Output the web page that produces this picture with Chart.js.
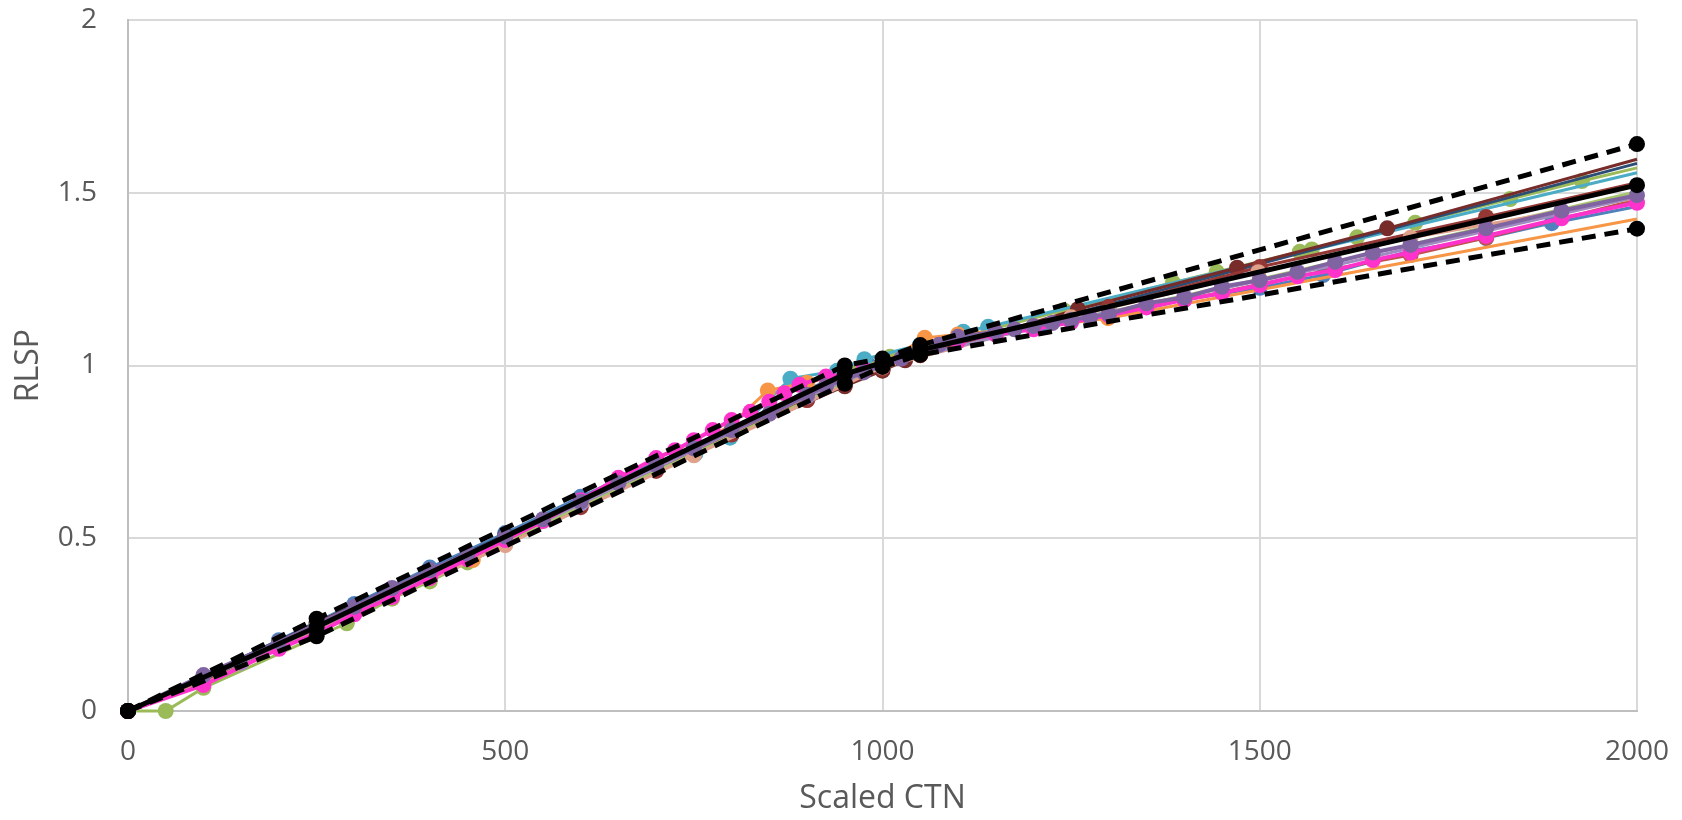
<!DOCTYPE html>
<html>
<head>
<meta charset="utf-8">
<title>RLSP vs Scaled CTN</title>
<script src="https://cdn.jsdelivr.net/npm/chart.js@4"></script>
<style>
  html, body { margin: 0; padding: 0; background: #ffffff; }
  canvas { display: block; }
</style>
</head>
<body>
<canvas id="rlspChart" width="1682" height="820"></canvas>
<script>
// axis ticks
const xTicks = [0, 500, 1000, 1500, 2000];
const yTicks = [0, 0.5, 1, 1.5, 2];

// each curve: [Scaled CTN, RLSP]
const bluePts = [[0,0],[100,0.1],[200,0.205],[300,0.31],[400,0.415],[500,0.515],[600,0.62],[700,0.72],[750,0.755],[800,0.8],[900,0.93],[980,1.005],[1050,1.05],[1100,1.08],[1210,1.11],[1300,1.14],[1400,1.19],[1500,1.225],[1584,1.262],[1701,1.332],[1800,1.369],[1887,1.412],[2000,1.46]];
const redPts = [[0,0],[100,0.085],[200,0.185],[250,0.235],[300,0.285],[400,0.385],[500,0.49],[600,0.595],[700,0.7],[800,0.805],[900,0.9],[950,0.955],[1000,0.99],[1050,1.03],[1100,1.07],[1200,1.11],[1300,1.15],[1400,1.19],[1500,1.235],[1600,1.28],[1700,1.32],[1800,1.37],[2000,1.48]];
const greenPts = [[0,0],[50,0],[100,0.067],[290,0.254],[350,0.325],[400,0.375],[450,0.43],[500,0.485],[600,0.6],[700,0.705],[800,0.81],[900,0.915],[960,0.985],[1010,1.025],[1100,1.08],[1240,1.16],[1385,1.24],[1443,1.271],[1553,1.329],[1569,1.336],[1629,1.371],[1706,1.413],[1832,1.482],[1927,1.534],[2000,1.572]];
const tealPts = [[0,0],[100,0.1],[200,0.2],[300,0.3],[400,0.4],[500,0.5],[600,0.6],[700,0.7],[752,0.744],[798,0.791],[878,0.962],[940,0.985],[976,1.018],[1050,1.06],[1107,1.098],[1140,1.112],[2000,1.558]];
const orangePts = [[0,0],[100,0.09],[200,0.19],[300,0.29],[400,0.39],[457,0.437],[500,0.485],[600,0.595],[700,0.705],[750,0.76],[800,0.83],[848,0.928],[900,0.95],[950,0.975],[1000,1.005],[1056,1.08],[1100,1.09],[1200,1.11],[1299,1.137],[2000,1.424]];
const darkBluePts = [[0,0],[250,0.255],[500,0.51],[750,0.76],[950,0.96],[1000,1.0],[1050,1.04],[1150,1.09],[2000,1.585]];
const maroonPts = [[0,0],[100,0.09],[250,0.255],[500,0.5],[750,0.75],[950,0.94],[1000,0.985],[1030,1.015],[1259,1.163],[1470,1.283],[1669,1.397],[2000,1.597]];
const darkRedPts = [[0,0],[100,0.085],[200,0.19],[300,0.29],[400,0.39],[500,0.49],[600,0.59],[700,0.695],[800,0.8],[900,0.9],[950,0.945],[1000,0.99],[1050,1.03],[1300,1.17],[1500,1.285],[1800,1.43],[2000,1.529]];
const olivePts = [[0,0],[250,0.245],[500,0.49],[750,0.745],[1000,1.0],[1100,1.07],[1300,1.155],[1500,1.25],[1700,1.35],[2000,1.503]];
const peachPts = [[0,0],[100,0.08],[250,0.23],[500,0.48],[750,0.74],[1000,0.995],[1250,1.14],[1498,1.27],[1700,1.37],[2000,1.485]];
const lavenderPts = [[0,0],[150,0.14],[300,0.29],[600,0.6],[900,0.91],[1000,1.0],[1200,1.11],[1400,1.2],[1600,1.29],[2000,1.488]];
const pinkPts = [[0,0],[100,0.075],[200,0.18],[250,0.225],[300,0.28],[350,0.33],[400,0.385],[450,0.44],[500,0.495],[550,0.55],[600,0.61],[650,0.675],[700,0.732],[725,0.755],[750,0.784],[775,0.813],[800,0.842],[825,0.866],[850,0.895],[870,0.92],[890,0.944],[925,0.968],[950,0.975],[975,0.99],[1000,1.005],[1050,1.04],[1100,1.07],[1150,1.09],[1200,1.105],[1250,1.125],[1300,1.145],[1350,1.168],[1400,1.19],[1450,1.21],[1500,1.233],[1550,1.258],[1600,1.276],[1650,1.305],[1700,1.327],[1800,1.375],[1900,1.426],[2000,1.471]];
const purplePts = [[0,0],[100,0.104],[200,0.2],[300,0.302],[350,0.356],[400,0.408],[450,0.455],[500,0.505],[550,0.555],[600,0.606],[650,0.66],[700,0.712],[750,0.76],[800,0.813],[850,0.86],[900,0.915],[925,0.94],[950,0.96],[975,0.98],[1000,1.0],[1025,1.02],[1050,1.04],[1075,1.06],[1100,1.083],[1150,1.098],[1175,1.105],[1200,1.114],[1225,1.123],[1250,1.132],[1275,1.14],[1300,1.149],[1350,1.18],[1400,1.197],[1450,1.228],[1500,1.247],[1550,1.271],[1600,1.3],[1650,1.327],[1700,1.349],[1800,1.397],[1900,1.448],[2000,1.493]];

// reference curve and its limits
const meanPts = [[0,0],[250,0.243],[950,0.975],[1000,1.008],[1050,1.045],[2000,1.522]];
const upperPts = [[0,0],[250,0.267],[950,1.0],[1000,1.02],[1050,1.059],[2000,1.641]];
const lowerPts = [[0,0],[250,0.216],[950,0.947],[1000,0.996],[1050,1.031],[2000,1.396]];

document.addEventListener("DOMContentLoaded", () => {
    renderChart();
});

/**
 * one measured curve (marker + line)
 * @param {Array} pts - [x, y] pairs
 * @param {String} color - line / marker colour
 * @param {Object} opt - width, whether the end point at 2000 has a marker
 */
function curve(pts, color, opt = {}) {
    const width = opt.width || 3;
    const r = opt.radius || 8;
    return {
        data: pts.map(p => ({ x: p[0], y: p[1] })),
        borderColor: color,
        backgroundColor: color,
        borderWidth: width,
        pointRadius: pts.map((p, i) => (opt.noEnd && i === pts.length - 1) ? 0 : r),
        pointBorderWidth: 0,
        pointBackgroundColor: color,
        showLine: true,
        tension: 0,
        clip: false,
        borderDash: opt.dash || []
    };
}

function renderChart() {
    // drawn bottom to top (Excel series order)
    const layers = [
        curve(bluePts, '#4f81bd', { noEnd: true }),
        curve(redPts, '#c0504d', { noEnd: true }),
        curve(greenPts, '#9bbb59', { noEnd: true }),
        curve(tealPts, '#4bacc6', { noEnd: true }),
        curve(orangePts, '#f79646', { noEnd: true }),
        curve(darkBluePts, '#2c4d75', { noEnd: true }),
        curve(maroonPts, '#772c2a', { noEnd: true }),
        curve(darkRedPts, '#953735', { noEnd: true }),
        curve(olivePts, '#a9c46e', { noEnd: true }),
        curve(peachPts, '#e0a18a', { noEnd: true }),
        curve(lavenderPts, '#a08cc0', { noEnd: true }),
        curve(pinkPts, '#ff33cc', { width: 4 }),
        curve(purplePts, '#8064a2', { width: 4 }),
        curve(upperPts, '#000000', { width: 5, radius: 8, dash: [14, 9] }),
        curve(lowerPts, '#000000', { width: 5, radius: 8, dash: [14, 9] }),
        curve(meanPts, '#000000', { width: 5, radius: 8 })
    ];
    // Chart.js paints index 0 last, so flip it
    const datasets = layers.reverse();

    const tickFont = { family: "'Open Sans', sans-serif", size: 28 };
    const titleFont = { family: "'Open Sans', sans-serif", size: 32 };
    const grey = '#595959';

    const ctx = document.getElementById('rlspChart').getContext('2d');
    new Chart(ctx, {
        type: 'scatter',
        data: { datasets: datasets },
        options: {
            responsive: false,
            animation: false,
            layout: { padding: { top: 20, right: 45, left: 0, bottom: 0 } },
            plugins: {
                legend: { display: false },
                tooltip: { enabled: false }
            },
            scales: {
                x: {
                    type: 'linear',
                    min: 0,
                    max: 2000,
                    afterBuildTicks: s => { s.ticks = xTicks.map(v => ({ value: v })); },
                    afterFit: s => { s.height = 109; },
                    grid: { color: '#d9d9d9', lineWidth: 2, drawTicks: true, tickLength: 24, tickColor: 'rgba(0,0,0,0)' },
                    border: { color: '#bfbfbf', width: 2 },
                    ticks: { color: grey, font: tickFont, padding: 0, maxRotation: 0, callback: v => String(v) },
                    title: {
                        display: true, text: 'Scaled CTN', color: grey,
                        font: titleFont, padding: { top: 0, bottom: 2 }
                    }
                },
                y: {
                    type: 'linear',
                    min: 0,
                    max: 2,
                    afterBuildTicks: s => { s.ticks = yTicks.map(v => ({ value: v })); },
                    afterFit: s => { s.width = 128; },
                    grid: { color: '#d9d9d9', lineWidth: 2, drawTicks: true, tickLength: 31, tickColor: 'rgba(0,0,0,0)' },
                    border: { color: '#bfbfbf', width: 2 },
                    ticks: { color: grey, font: tickFont, padding: 0, callback: v => String(v) },
                    title: {
                        display: true, text: 'RLSP', color: grey,
                        font: titleFont, padding: { top: 10, bottom: 0 }
                    }
                }
            }
        }
    });
}
</script>
</body>
</html>
